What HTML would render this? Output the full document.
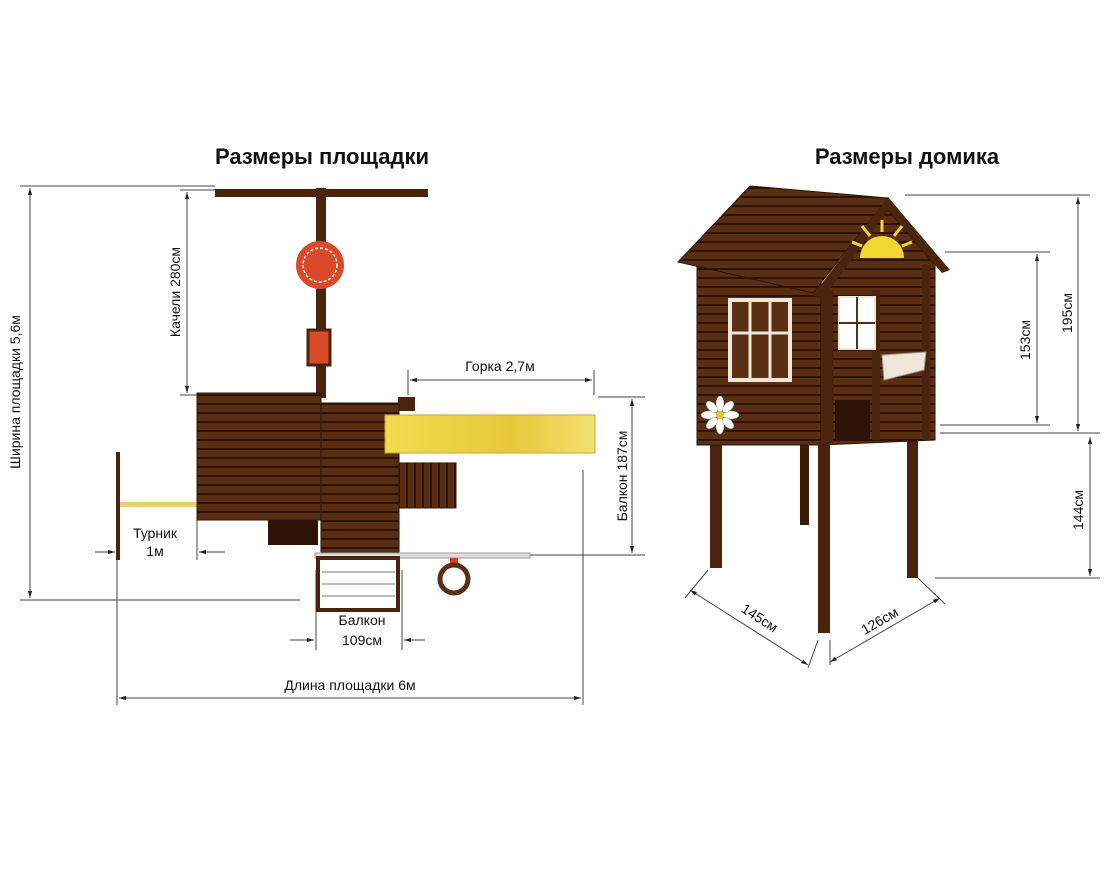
<!DOCTYPE html>
<html><head><meta charset="utf-8"><style>
body{margin:0;background:#fff}
svg{display:block}
text{font-family:"Liberation Sans",sans-serif;fill:#111}
</style></head><body>
<svg width="1111" height="880" viewBox="0 0 1111 880" xmlns="http://www.w3.org/2000/svg">
<defs>
<pattern id="plank" width="10" height="9" patternUnits="userSpaceOnUse"><rect width="10" height="9" fill="#5a2e12"/><rect y="7" width="10" height="2" fill="#2e1407"/></pattern>
<pattern id="vplank" width="8" height="10" patternUnits="userSpaceOnUse"><rect width="8" height="10" fill="#5a2e12"/><rect x="6" width="2" height="10" fill="#2e1407"/></pattern>
<linearGradient id="yel" x1="0" x2="1"><stop offset="0" stop-color="#f0dc50"/><stop offset=".6" stop-color="#e8c83a"/><stop offset="1" stop-color="#f3e070"/></linearGradient>
<marker id="a" viewBox="0 0 10 10" refX="10" refY="5" markerWidth="7" markerHeight="7" orient="auto-start-reverse"><path d="M0,2 L10,5 L0,8z" fill="#222"/></marker>
</defs>
<g stroke="#444" stroke-width="1" fill="none">
<line x1="20" y1="186" x2="215" y2="186"/><line x1="20" y1="600" x2="300" y2="600"/>
<line x1="30" y1="188" x2="30" y2="598" marker-start="url(#a)" marker-end="url(#a)"/>
<line x1="180" y1="190" x2="215" y2="190"/><line x1="180" y1="395" x2="200" y2="395"/>
<line x1="187" y1="192" x2="187" y2="393" marker-start="url(#a)" marker-end="url(#a)"/>
<line x1="408" y1="370" x2="408" y2="395"/><line x1="594" y1="370" x2="594" y2="395"/>
<line x1="410" y1="380" x2="592" y2="380" marker-start="url(#a)" marker-end="url(#a)"/>
<line x1="598" y1="397" x2="645" y2="397"/><line x1="530" y1="555" x2="645" y2="555"/>
<line x1="632" y1="399" x2="632" y2="553" marker-start="url(#a)" marker-end="url(#a)"/>
<line x1="117" y1="560" x2="117" y2="705"/><line x1="583" y1="470" x2="583" y2="705"/>
<line x1="119" y1="698" x2="581" y2="698" marker-start="url(#a)" marker-end="url(#a)"/>
<line x1="95" y1="552" x2="115" y2="552" marker-end="url(#a)"/><line x1="225" y1="552" x2="199" y2="552" marker-end="url(#a)"/>
<line x1="197" y1="520" x2="197" y2="560"/>
<line x1="316" y1="570" x2="316" y2="650"/><line x1="402" y1="570" x2="402" y2="650"/>
<line x1="290" y1="640" x2="314" y2="640" marker-end="url(#a)"/><line x1="425" y1="640" x2="404" y2="640" marker-end="url(#a)"/>
<line x1="905" y1="195" x2="1090" y2="195"/><line x1="945" y1="252" x2="1050" y2="252"/>
<line x1="940" y1="425" x2="1050" y2="425"/><line x1="940" y1="433" x2="1100" y2="433"/>
<line x1="935" y1="578" x2="1100" y2="578"/>
<line x1="1078" y1="197" x2="1078" y2="431" marker-start="url(#a)" marker-end="url(#a)"/>
<line x1="1037" y1="254" x2="1037" y2="423" marker-start="url(#a)" marker-end="url(#a)"/>
<line x1="1090" y1="437" x2="1090" y2="576" marker-start="url(#a)" marker-end="url(#a)"/>
<line x1="690" y1="590" x2="808" y2="665" marker-start="url(#a)" marker-end="url(#a)"/>
<line x1="830" y1="662" x2="940" y2="598" marker-start="url(#a)" marker-end="url(#a)"/>
<line x1="708" y1="570" x2="685" y2="598"/><line x1="818" y1="640" x2="808" y2="668"/><line x1="830" y1="640" x2="830" y2="665"/><line x1="918" y1="578" x2="945" y2="604"/>
</g>
<text x="322" y="164" font-size="22" font-weight="bold" text-anchor="middle">Размеры площадки</text>
<text x="907" y="164" font-size="22" font-weight="bold" text-anchor="middle">Размеры домика</text>
<g font-size="14">
<text transform="translate(20,392) rotate(-90)" text-anchor="middle">Ширина площадки 5,6м</text>
<text transform="translate(180,292) rotate(-90)" text-anchor="middle">Качели 280см</text>
<text x="500" y="371" text-anchor="middle">Горка 2,7м</text>
<text transform="translate(627,476) rotate(-90)" text-anchor="middle">Балкон 187см</text>
<text x="155" y="538" text-anchor="middle">Турник</text>
<text x="155" y="556" text-anchor="middle">1м</text>
<text x="362" y="625" text-anchor="middle">Балкон</text>
<text x="362" y="645" text-anchor="middle">109см</text>
<text x="350" y="690" text-anchor="middle">Длина площадки 6м</text>
<text transform="translate(1072,313) rotate(-90)" text-anchor="middle">195см</text>
<text transform="translate(1030,340) rotate(-90)" text-anchor="middle">153см</text>
<text transform="translate(1083,510) rotate(-90)" text-anchor="middle">144см</text>
<text transform="translate(757,622) rotate(33)" text-anchor="middle">145см</text>
<text transform="translate(882,625) rotate(-30)" text-anchor="middle">126см</text>
</g>
<rect x="215" y="189" width="213" height="8" fill="#4a240c"/>
<rect x="316" y="188" width="10" height="210" fill="#4a240c"/>
<circle cx="320" cy="265" r="24" fill="#d84a2a"/><circle cx="320" cy="265" r="17" fill="none" stroke="#fff" stroke-width="1.5" stroke-dasharray="3 2"/>
<rect x="308" y="330" width="22" height="35" fill="#d84a2a" stroke="#4a240c" stroke-width="3"/>
<rect x="116" y="452" width="4" height="108" fill="#4a240c"/>
<rect x="120" y="502" width="78" height="5" fill="#e8d070"/>
<rect x="197" y="393" width="124" height="127" fill="url(#plank)" stroke="#2e1407"/>
<rect x="268" y="520" width="50" height="25" fill="#2e1407"/>
<rect x="321" y="403" width="78" height="152" fill="url(#plank)" stroke="#2e1407"/>
<rect x="398" y="397" width="17" height="14" fill="#4a240c"/>
<rect x="385" y="415" width="210" height="38" fill="url(#yel)" stroke="#c8a830"/>
<rect x="399" y="463" width="57" height="45" fill="url(#vplank)" stroke="#2e1407"/>
<rect x="315" y="553" width="215" height="5" fill="#ddd" stroke="#999"/>
<rect x="318" y="558" width="80" height="52" fill="#fff" stroke="#4a240c" stroke-width="4"/>
<g stroke="#bbb" stroke-width="2"><line x1="322" y1="572" x2="395" y2="572"/><line x1="322" y1="584" x2="395" y2="584"/><line x1="322" y1="596" x2="395" y2="596"/></g>
<rect x="450" y="558" width="8" height="6" fill="#e03a20"/>
<circle cx="454" cy="579" r="14" fill="none" stroke="#5a2e12" stroke-width="5"/>
<rect x="710" y="440" width="12" height="128" fill="#4a240c"/>
<rect x="800" y="445" width="9" height="80" fill="#3a1a08"/>
<rect x="818" y="445" width="12" height="188" fill="#4a240c"/>
<rect x="907" y="438" width="11" height="140" fill="#4a240c"/>
<rect x="697" y="265" width="124" height="180" fill="url(#plank)" stroke="#2e1407"/>
<polygon points="821,290 888,210 935,265 935,440 821,445" fill="url(#plank)" stroke="#2e1407"/>
<rect x="835" y="400" width="35" height="40" fill="#2e1407"/>
<rect x="821" y="290" width="12" height="155" fill="#4a240c"/>
<rect x="872" y="290" width="8" height="150" fill="#4a240c"/>
<rect x="922" y="265" width="8" height="175" fill="#4a240c"/>
<polygon points="678,262 750,186 888,198 813,293" fill="url(#plank)" stroke="#2e1407"/>
<polygon points="813,295 888,197 950,270 942,273 888,210 822,300" fill="#4a240c"/>
<path d="M860,258 a22,22 0 0 1 44,0z" fill="#f0d830"/>
<g stroke="#f0d830" stroke-width="3"><line x1="882" y1="232" x2="882" y2="220"/><line x1="870" y1="236" x2="862" y2="226"/><line x1="894" y1="236" x2="902" y2="226"/><line x1="862" y1="246" x2="852" y2="242"/><line x1="902" y1="246" x2="912" y2="242"/></g>
<rect x="730" y="300" width="60" height="80" fill="#5a2e12" stroke="#eee6d6" stroke-width="4"/>
<g stroke="#eee6d6" stroke-width="3"><line x1="750" y1="300" x2="750" y2="380"/><line x1="770" y1="300" x2="770" y2="380"/><line x1="730" y1="333" x2="790" y2="333"/></g>
<rect x="839" y="297" width="36" height="52" fill="#fff" stroke="#eee6d6" stroke-width="2"/>
<g stroke="#5a2e12" stroke-width="2"><line x1="857" y1="297" x2="857" y2="349"/><line x1="839" y1="323" x2="875" y2="323"/></g>
<polygon points="882,355 926,352 924,370 884,380" fill="#eee6d6" stroke="#999"/>
<g fill="#fff" stroke="#999" stroke-width=".5"><ellipse cx="720" cy="404" rx="4" ry="8"/><ellipse cx="720" cy="426" rx="4" ry="8"/><ellipse cx="709" cy="415" rx="8" ry="4"/><ellipse cx="731" cy="415" rx="8" ry="4"/><ellipse cx="712" cy="407" rx="4" ry="7" transform="rotate(-45 712 407)"/><ellipse cx="728" cy="423" rx="4" ry="7" transform="rotate(-45 728 423)"/><ellipse cx="728" cy="407" rx="4" ry="7" transform="rotate(45 728 407)"/><ellipse cx="712" cy="423" rx="4" ry="7" transform="rotate(45 712 423)"/></g>
<circle cx="720" cy="415" r="4" fill="#e8c830"/>
</svg>
</body></html>
